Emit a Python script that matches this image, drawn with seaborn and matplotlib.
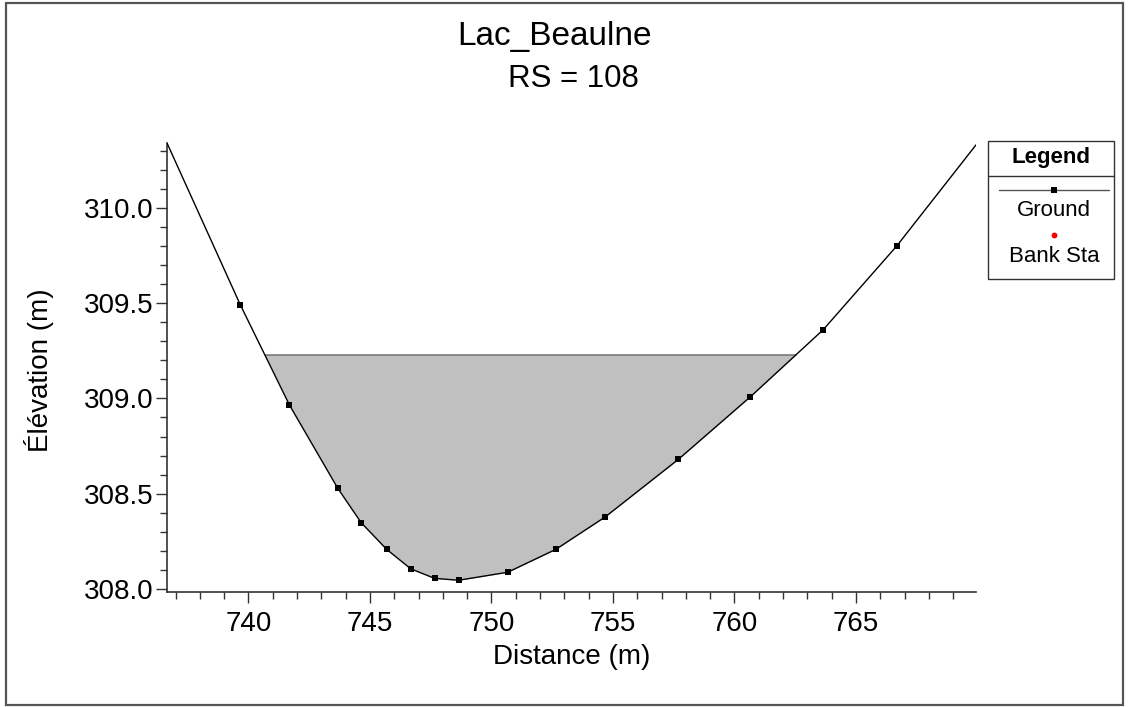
import numpy as np
import matplotlib
matplotlib.use("Agg")
import matplotlib.pyplot as plt
from matplotlib.patches import Rectangle
from matplotlib.lines import Line2D
from matplotlib.ticker import MultipleLocator, FormatStrFormatter
import seaborn as sns
import pandas as pd

# ---- data ----
station = [736.65, 739.67, 741.69, 743.67, 744.64, 745.69, 746.68, 747.66, 748.65,
           750.67, 752.65, 754.68, 757.69, 760.66, 763.65, 766.68, 769.94]
elevation = [310.34, 309.49, 308.965, 308.53, 308.348, 308.208, 308.106, 308.056, 308.046,
             308.088, 308.208, 308.378, 308.68, 309.009, 309.36, 309.80, 310.33]
water_surface = 309.23
title_text = "Lac_Beaulne"
subtitle_text = "RS = 108"
legend_labels = ["Ground", "Bank Sta"]

sns.set_style("ticks")
plt.rcParams['font.family'] = ['Liberation Sans', 'DejaVu Sans']
plt.rcParams['text.color'] = 'black'
plt.rcParams['axes.labelcolor'] = 'black'
plt.rcParams['xtick.labelcolor'] = 'black'
plt.rcParams['ytick.labelcolor'] = 'black'

W, H = 1129, 707
fig = plt.figure(figsize=(W / 100, H / 100), dpi=100)
ax_l, ax_r, ax_t, ax_b = 167, 976, 143, 591.5
ax = fig.add_axes([ax_l / W, 1 - ax_b / H, (ax_r - ax_l) / W, (ax_b - ax_t) / H])

df = pd.DataFrame({"Distance": station, "Elevation": elevation})
x = np.array(station)
y = np.array(elevation)

# water fill
ax.fill_between(x, y, water_surface, where=y <= water_surface, interpolate=True,
                color="#c0c0c0", linewidth=0, zorder=1)
# water surface line between intersections
below = np.where(y <= water_surface)[0]
i0, i1 = below[0], below[-1]
xl = np.interp(water_surface, [y[i0], y[i0 - 1]], [x[i0], x[i0 - 1]])
xr = np.interp(water_surface, [y[i1], y[i1 + 1]], [x[i1], x[i1 + 1]])
ax.plot([xl, xr], [water_surface, water_surface], color="#707070", lw=1.1, zorder=2)

sns.lineplot(data=df, x="Distance", y="Elevation", ax=ax, color="black", lw=1.0,
             marker="s", markersize=4.2, markeredgewidth=0, markevery=slice(1, -1),
             sort=False, zorder=3, clip_on=True)

ax.set_xlim(station[0], station[-1])
ax.set_ylim(307.987, 310.34)
ax.xaxis.set_major_locator(MultipleLocator(5))
ax.xaxis.set_minor_locator(MultipleLocator(1))
ax.yaxis.set_major_locator(MultipleLocator(0.5))
ax.yaxis.set_minor_locator(MultipleLocator(0.1))
ax.yaxis.set_major_formatter(FormatStrFormatter("%.1f"))
ax.xaxis.set_major_formatter(FormatStrFormatter("%d"))

for s in ["top", "right"]:
    ax.spines[s].set_visible(False)
for s in ["left", "bottom"]:
    ax.spines[s].set_color("#333333")
    ax.spines[s].set_linewidth(1.2)
ax.tick_params(which="major", length=8, width=1.0, color="#333333", labelsize=20, pad=6,
               labelcolor="black")
ax.tick_params(axis="y", which="major", pad=2)
ax.tick_params(which="minor", length=5, width=1.0, color="#333333")

ax.set_xlabel("Distance (m)", fontsize=20, color="black")
ax.set_ylabel("Élévation (m)", fontsize=20, color="black")
ax.xaxis.set_label_coords(0.5, -0.118)
ax.yaxis.set_label_coords(-0.140, 0.494)

# titles
fig.text(554 / W, 1 - 37 / H, title_text, ha="center", va="center", fontsize=24, color="black")
fig.text(573 / W, 1 - 79 / H, subtitle_text, ha="center", va="center", fontsize=22.5, color="black")

# figure border
fig.patches.append(Rectangle((6 / W, 2.5 / H), (1123 - 6) / W, (704.5 - 2.5) / H,
                             transform=fig.transFigure, fill=False,
                             edgecolor="#555555", lw=1.6))

# custom legend box
lx0, lx1, ly0, ly1 = 988, 1114, 141, 279.5
fig.patches.append(Rectangle((lx0 / W, 1 - ly1 / H), (lx1 - lx0) / W, (ly1 - ly0) / H,
                             transform=fig.transFigure, fill=False,
                             edgecolor="#333333", lw=1.0))
fig.lines.append(Line2D([lx0 / W, lx1 / W], [1 - 176 / H, 1 - 176 / H],
                        transform=fig.transFigure, color="#333333", lw=1.0))
fig.text((lx0 + lx1) / 2 / W, 1 - 157 / H, "Legend", ha="center", va="center",
         fontsize=16, fontweight="bold", color="black")
fig.lines.append(Line2D([999 / W, 1109 / W], [1 - 190 / H, 1 - 190 / H],
                        transform=fig.transFigure, color="#555555", lw=1.0))
fig.lines.append(Line2D([1054 / W], [1 - 190 / H], transform=fig.transFigure,
                        color="black", marker="s", markersize=4.2, markeredgewidth=0, lw=0))
fig.text(1054 / W, 1 - 211 / H, legend_labels[0], ha="center", va="center", fontsize=16,
         color="black")
fig.lines.append(Line2D([1054 / W], [1 - 235 / H], transform=fig.transFigure,
                        color="red", marker="o", markersize=4.2, markeredgewidth=0, lw=0))
fig.text(1054 / W, 1 - 257 / H, legend_labels[1], ha="center", va="center", fontsize=16,
         color="black")

fig.savefig("out.png", dpi=100)
